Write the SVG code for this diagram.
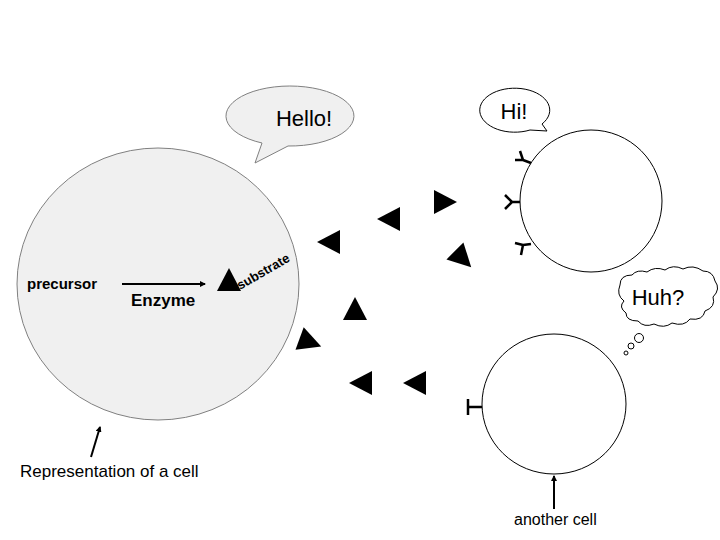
<svg xmlns="http://www.w3.org/2000/svg" width="720" height="540" viewBox="0 0 720 540">
<style>
text{font-family:"Liberation Sans",Arial,sans-serif;fill:#000}
.b{font-weight:bold}
.cell{fill:#fff;stroke:#000;stroke-width:1}
.tri{fill:#000}
.rec{fill:none;stroke:#000;stroke-width:2.5}
.ln{stroke:#000;stroke-width:2;fill:none}
</style>
<defs>
<marker id="ah" markerWidth="6" markerHeight="6" refX="5" refY="3" orient="auto" markerUnits="userSpaceOnUse"><path d="M0,0L6,3L0,6z" fill="#000"/></marker>
<polygon id="t" points="-13,0 10,-12 10,12" class="tri"/>
</defs>
<rect width="720" height="540" fill="#fff"/>
<g id="cell1">
<ellipse cx="158" cy="284" rx="141" ry="136" fill="#f0f0f0" stroke="#808080" stroke-width="1"/>
<text x="27" y="289" class="b" font-size="15">precursor</text>
<text x="131" y="306" class="b" font-size="17">Enzyme</text>
</g>
<g id="hello">
<path d="M262,143 A64,30 0 1 1 288,146 L255,163 Z" fill="#f0f0f0" stroke="#808080"/>
<text x="304" y="126" font-size="22" text-anchor="middle">Hello!</text>
</g>
<g id="hi">
<path d="M530,130 A35,22 0 1 1 542,124 L547,131 Z" fill="#fff" stroke="#000"/>
<text x="514" y="119" font-size="22" text-anchor="middle">Hi!</text>
</g>
<g id="cell2">
<circle cx="591" cy="201" r="71" class="cell"/>
<g class="rec">
<path d="M531,163 l-8,-3 m0,0 l-8,0 m8,0 l-3,-9"/>
<path d="M520,202 l-8,0 m0,0 l-7,-7 m7,7 l-7,7"/>
<path d="M531,244 l-8,1 m0,0 l-8,-2 m8,2 l-2,10"/>
</g>
</g>
<g id="cell3">
<ellipse cx="554" cy="404" rx="72" ry="70" class="cell"/>
<path d="M482,407 H468 M468,399 V415" class="rec" stroke-width="3"/>
</g>
<g id="huh">
<path d="M620,285 q0,-10 12,-10 q5,-6 15,-3 q8,-6 18,-2 q8,-6 18,-1 q10,-5 20,2 q10,0 12,10 q6,8 -2,16 q3,10 -8,14 q-2,10 -15,8 q-6,8 -18,4 q-8,6 -18,1 q-10,4 -16,-3 q-12,0 -12,-8 q-8,-6 -2,-12 q-8,-6 -4,-16 z" fill="#fff" stroke="#000"/>
<text x="658" y="305" font-size="22" text-anchor="middle">Huh?</text>
<circle cx="639" cy="338" r="4.5" fill="#fff" stroke="#000"/>
<circle cx="631" cy="346" r="3" fill="#fff" stroke="#000"/>
<circle cx="626" cy="353" r="2" fill="#fff" stroke="#000"/>
</g>
<g id="molecules">
<use href="#t" transform="translate(229,281) rotate(90)"/>
<use href="#t" transform="translate(444,202) rotate(180)"/>
<use href="#t" transform="translate(390,219)"/>
<use href="#t" transform="translate(330,242)"/>
<use href="#t" transform="translate(462,258) rotate(-135)"/>
<use href="#t" transform="translate(355,310) rotate(90)"/>
<use href="#t" transform="translate(309,342) rotate(-160)"/>
<use href="#t" transform="translate(362,383)"/>
<use href="#t" transform="translate(416,383)"/>
<text class="b" font-size="13" transform="translate(240,290) rotate(-30)">substrate</text>
</g>
<g id="connectors">
<line x1="122" y1="284" x2="205" y2="284" class="ln" marker-end="url(#ah)"/>
<line x1="91" y1="457" x2="100" y2="427" class="ln" marker-end="url(#ah)"/>
<line x1="554" y1="509" x2="554" y2="476" class="ln" marker-end="url(#ah)"/>
</g>
<text x="20" y="477" font-size="17">Representation of a cell</text>
<text x="514" y="525" font-size="16">another cell</text>
</svg>
